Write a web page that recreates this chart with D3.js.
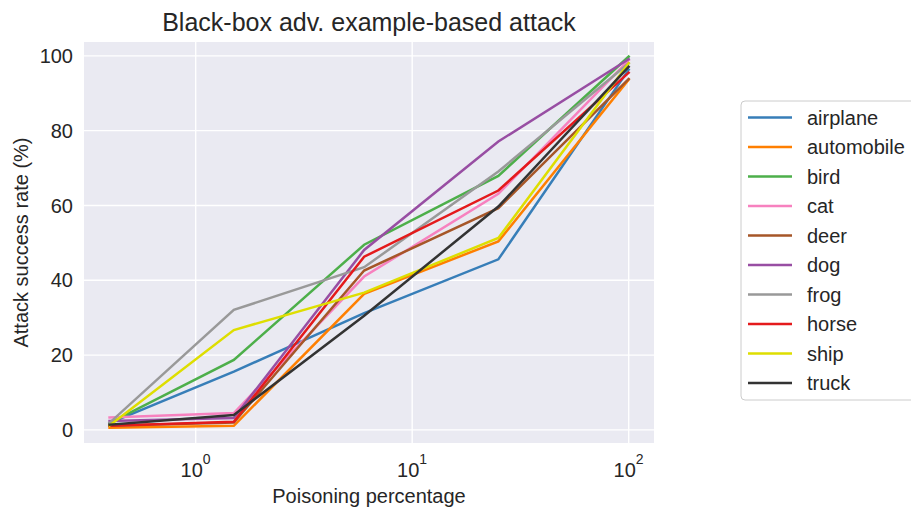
<!DOCTYPE html>
<html>
<head>
<meta charset="utf-8">
<script src="https://cdn.jsdelivr.net/npm/d3@7"></script>
<style>
  html, body { margin: 0; padding: 0; background: #ffffff; }
  svg { display: block; font-family: "Liberation Sans", Arial, sans-serif; }
</style>
</head>
<body>
<svg id="chart" width="911" height="510"></svg>
<script>
// Poisoning percentages (log-scaled x axis)
const poisoning = [0.4, 1.5, 6, 25, 100];

// CIFAR-10 classes and their line colours
const classes = ["airplane", "automobile", "bird", "cat", "deer", "dog", "frog", "horse", "ship", "truck"];
const colors = ["#377eb8", "#ff7f00", "#4daf4a", "#f781bf", "#a65628", "#984ea3", "#999999", "#e41a1c", "#dede00", "#333333"];

// Attack success rate (%) per class, one value per poisoning percentage
const airplane   = [1.8, 15.6, 31.2, 45.6, 96.3];
const automobile = [0.6, 1.1, 36.4, 50.4, 93.6];
const bird       = [1.8, 18.7, 49.5, 67.9, 99.8];
const cat        = [3.3, 4.5, 41.0, 63.1, 98.8];
const deer       = [1.1, 2.0, 42.6, 59.3, 93.8];
const dog        = [2.4, 3.2, 48.1, 77.1, 99.1];
const frog       = [1.9, 32.1, 43.5, 69.1, 98.0];
const horse      = [1.1, 2.2, 46.3, 64.0, 95.5];
const ship       = [1.2, 26.7, 36.7, 51.3, 98.0];
const truck      = [1.4, 4.0, 30.5, 59.7, 97.1];

const seriesValues = [airplane, automobile, bird, cat, deer, dog, frog, horse, ship, truck];

const yTicks = [0, 20, 40, 60, 80, 100];
const xTicks = [1, 10, 100];
const xTickExponents = ["0", "1", "2"];

const svg = d3.select("#chart");

const plot = { left: 84, right: 654, top: 42, bottom: 443 };

const x = d3.scaleLog()
  .domain([Math.pow(10, -0.516), Math.pow(10, 2.117)])
  .range([plot.left, plot.right]);

const y = d3.scaleLinear()
  .domain([-3.5, 103.7])
  .range([plot.bottom, plot.top]);

const ink = "#262626";

// Axes background
svg.append("rect")
  .attr("x", plot.left).attr("y", plot.top)
  .attr("width", plot.right - plot.left).attr("height", plot.bottom - plot.top)
  .attr("fill", "#eaeaf2");

// Grid lines
const grid = svg.append("g");
grid.selectAll(".gy").data(yTicks).join("line")
  .attr("x1", plot.left).attr("x2", plot.right)
  .attr("y1", d => y(d)).attr("y2", d => y(d))
  .attr("stroke", "#ffffff").attr("stroke-width", 1.4);
grid.selectAll(".gx").data(xTicks).join("line")
  .attr("y1", plot.top).attr("y2", plot.bottom)
  .attr("x1", d => x(d)).attr("x2", d => x(d))
  .attr("stroke", "#ffffff").attr("stroke-width", 1.4);

// Y tick labels
svg.append("g").selectAll("text").data(yTicks).join("text")
  .attr("x", 73).attr("y", d => y(d))
  .attr("dy", "0.36em")
  .attr("text-anchor", "end")
  .attr("font-size", 20)
  .attr("fill", ink)
  .text(d => d);

// X tick labels as powers of ten
const xt = svg.append("g").selectAll("g").data(xTicks).join("g")
  .attr("transform", d => `translate(${x(d)},0)`);
xt.append("text")
  .attr("x", -4).attr("y", 477)
  .attr("text-anchor", "middle")
  .attr("font-size", 20)
  .attr("fill", ink)
  .text("10");
xt.append("text")
  .attr("x", 7).attr("y", 464)
  .attr("text-anchor", "start")
  .attr("font-size", 14)
  .attr("fill", ink)
  .text((d, i) => xTickExponents[i]);

// Axis labels and title
svg.append("text")
  .attr("x", (plot.left + plot.right) / 2).attr("y", 503)
  .attr("text-anchor", "middle")
  .attr("font-size", 20)
  .attr("fill", ink)
  .text("Poisoning percentage");

svg.append("text")
  .attr("transform", `translate(28,${(plot.top + plot.bottom) / 2}) rotate(-90)`)
  .attr("text-anchor", "middle")
  .attr("font-size", 20)
  .attr("fill", ink)
  .text("Attack success rate (%)");

svg.append("text")
  .attr("x", (plot.left + plot.right) / 2).attr("y", 31)
  .attr("text-anchor", "middle")
  .attr("font-size", 25)
  .attr("fill", ink)
  .text("Black-box adv. example-based attack");

// Series lines
const line = d3.line()
  .x((d, i) => x(poisoning[i]))
  .y(d => y(d));

svg.append("g").selectAll("path").data(seriesValues).join("path")
  .attr("d", d => line(d))
  .attr("fill", "none")
  .attr("stroke", (d, i) => colors[i])
  .attr("stroke-width", 2.5)
  .attr("stroke-linejoin", "miter")
  .attr("stroke-linecap", "square");

// Legend
const legend = svg.append("g");
legend.append("rect")
  .attr("x", 741).attr("y", 101)
  .attr("width", 185).attr("height", 299)
  .attr("rx", 4)
  .attr("fill", "#ffffff").attr("fill-opacity", 0.8)
  .attr("stroke", "#cccccc").attr("stroke-width", 1);

const items = legend.selectAll("g.item").data(classes).join("g")
  .attr("transform", (d, i) => `translate(0,${117.5 + i * 29.5})`);
items.append("line")
  .attr("x1", 748).attr("x2", 792)
  .attr("stroke", (d, i) => colors[i])
  .attr("stroke-width", 2.5);
items.append("text")
  .attr("x", 807).attr("dy", "0.36em")
  .attr("font-size", 20)
  .attr("fill", ink)
  .text(d => d);
</script>
</body>
</html>
